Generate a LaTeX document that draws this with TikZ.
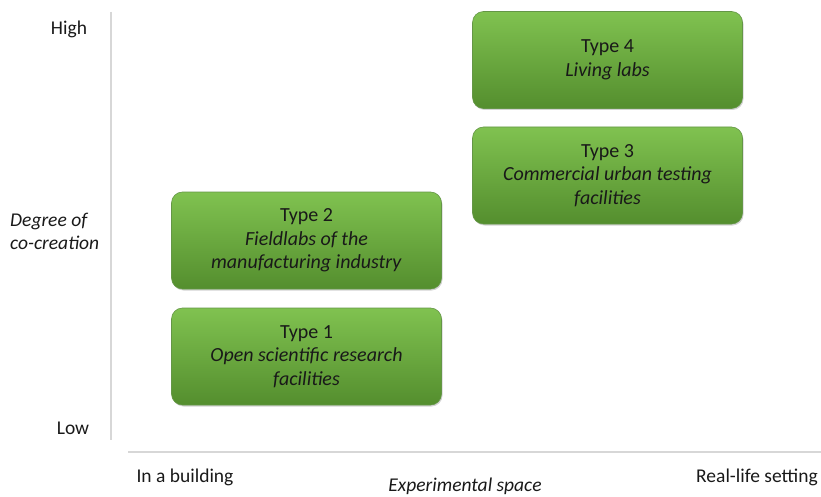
\documentclass[tikz,border=0pt]{standalone}
\usepackage{fontspec}
\setmainfont{Carlito}
\usetikzlibrary{shadows}
\definecolor{boxtop}{RGB}{128,194,80}
\definecolor{boxbot}{RGB}{84,142,46}
\definecolor{boxedge}{RGB}{100,150,70}
\definecolor{axisgray}{RGB}{215,215,215}
\definecolor{txt}{RGB}{25,25,25}
\begin{document}
\begin{tikzpicture}[x=1pt,y=-1pt,
  typebox/.style={rectangle, rounded corners=11pt, minimum width=270pt, minimum height=97pt,
    top color=boxtop, bottom color=boxbot, draw=boxedge, line width=0.6pt,
    drop shadow={opacity=0.35, shadow xshift=1pt, shadow yshift=-1.5pt},
    align=center, text=txt, font=\fontsize{20}{23.5}\selectfont, inner sep=2pt},
  lbl/.style={text=txt, font=\fontsize{19.5}{23}\selectfont, inner sep=0pt},
  axis/.style={draw=axisgray, line width=1.3pt}]
\useasboundingbox (0,0) rectangle (821,497);
% axes
\coordinate (vtop) at (111,12);
\coordinate (vbot) at (111,440);
\coordinate (hl) at (128,452);
\coordinate (hr) at (821,452);
\draw[axis] (vtop) -- (vbot);
\draw[axis] (hl) -- (hr);
% boxes
\node[typebox] (t4) at (607.5,60) {Type 4\\\textit{Living labs}};
\node[typebox] (t3) at (607.5,175.5) {Type 3\\\textit{Commercial urban testing}\\\textit{facilities}};
\node[typebox] (t2) at (306.5,240.5) {Type 2\\\textit{Fieldlabs of the}\\\textit{manufacturing industry}};
\node[typebox] (t1) at (306.5,356.5) {Type 1\\\textit{Open scientific research}\\\textit{facilities}};
% labels
\node[lbl] (high) at (69,29) {High};
\node[lbl] (low) at (73,428) {Low};
\node[lbl, align=left, anchor=west] (deg) at (10,231) {\textit{Degree of}\\\textit{co-creation}};
\node[lbl] (inb) at (185,477) {In a building};
\node[lbl] (real) at (757,477) {Real-life setting};
\node[lbl] (exp) at (465,486) {\textit{Experimental space}};
\end{tikzpicture}
\end{document}
